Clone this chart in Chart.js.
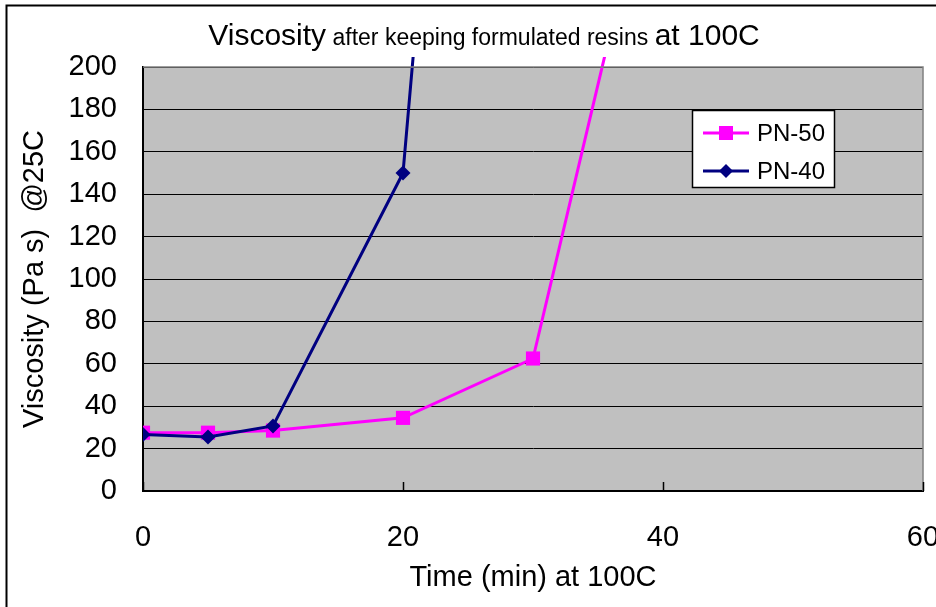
<!DOCTYPE html>
<html>
<head>
<meta charset="utf-8">
<script src="https://cdn.jsdelivr.net/npm/chart.js@4.4.0/dist/chart.umd.min.js"></script>
<style>
  html, body { margin: 0; padding: 0; background: #fff; }
  #wrap { width: 936px; height: 607px; position: relative; }
</style>
</head>
<body>
<div id="wrap"><canvas id="visc" width="936" height="607"></canvas></div>
<script>
// values
const pn50Time = [0, 5, 10, 20, 30, 40]
const pn50Visc = [27.5, 27.5, 28.5, 34.5, 62.5, 321]
const pn40Time = [0, 5, 10, 20, 30]
const pn40Visc = [26.6, 25.5, 30.7, 150, 853]
const xTicks = [0, 20, 40, 60]
const seriesNames = ['PN-50', 'PN-40']

const FONT = '"Liberation Sans", Arial, sans-serif'
const MAGENTA = '#FF00FF'
const NAVY = '#000080'

function toPoints(xs, ys) {
    let pts = []
    for (var i in xs) {
        pts.push({ x: xs[i], y: ys[i] })
    }
    return pts
}

// plot background, frame, inside tick marks
const plotDeco = {
    id: 'plotDeco',
    beforeDraw(chart) {
        const ctx = chart.ctx
        const a = chart.chartArea
        ctx.save()
        ctx.fillStyle = '#C0C0C0'
        ctx.fillRect(a.left, a.top, a.right - a.left, a.bottom - a.top)
        ctx.restore()
    },
    afterDraw(chart) {
        const ctx = chart.ctx
        const a = chart.chartArea
        ctx.save()
        // outer frame (left + top)
        ctx.strokeStyle = '#000'
        ctx.lineWidth = 2
        ctx.beginPath()
        ctx.moveTo(6.5, 607)
        ctx.lineTo(6.5, 5.5)
        ctx.lineTo(936, 5.5)
        ctx.stroke()
        // gray plot border top/right
        ctx.strokeStyle = '#808080'
        ctx.lineWidth = 1.5
        ctx.beginPath()
        ctx.moveTo(a.left, a.top)
        ctx.lineTo(a.right, a.top)
        ctx.lineTo(a.right, a.bottom)
        ctx.stroke()
        // x tick marks pointing up
        ctx.strokeStyle = '#000'
        ctx.lineWidth = 1.5
        const xs = chart.scales.x
        for (const t of xTicks) {
            const px = Math.round(xs.getPixelForValue(t)) + 0.5
            ctx.beginPath()
            ctx.moveTo(px, a.bottom)
            ctx.lineTo(px, a.bottom - 9)
            ctx.stroke()
        }
        ctx.restore()
    }
}

// title with mixed sizes
const mixedTitle = {
    id: 'mixedTitle',
    afterDraw(chart) {
        const ctx = chart.ctx
        const parts = [
            ['Viscosity', '30px ' + FONT],
            [' after keeping formulated resins ', '23px ' + FONT],
            ['at 100C', '30px ' + FONT]
        ]
        ctx.save()
        ctx.fillStyle = '#000'
        ctx.textBaseline = 'alphabetic'
        let total = 0
        for (const p of parts) {
            ctx.font = p[1]
            total += ctx.measureText(p[0]).width
        }
        let x = 484 - total / 2
        for (const p of parts) {
            ctx.font = p[1]
            ctx.fillText(p[0], x, 45)
            x += ctx.measureText(p[0]).width
        }
        ctx.restore()
    }
}

// legend box inside the plot
const boxLegend = {
    id: 'boxLegend',
    afterDraw(chart) {
        const ctx = chart.ctx
        const L = 692, T = 110, W = 142, H = 77
        ctx.save()
        ctx.fillStyle = '#fff'
        ctx.fillRect(L, T, W, H)
        ctx.strokeStyle = '#000'
        ctx.lineWidth = 1.5
        ctx.strokeRect(L + 0.5, T + 0.5, W, H)
        const rows = [
            { name: seriesNames[0], color: MAGENTA, y: 133, shape: 'square' },
            { name: seriesNames[1], color: NAVY, y: 171, shape: 'diamond' }
        ]
        for (const r of rows) {
            ctx.strokeStyle = r.color
            ctx.lineWidth = 3
            ctx.beginPath()
            ctx.moveTo(703, r.y)
            ctx.lineTo(749, r.y)
            ctx.stroke()
            ctx.fillStyle = r.color
            if (r.shape == 'square') {
                ctx.fillRect(726 - 7, r.y - 7, 14, 14)
            } else {
                ctx.beginPath()
                ctx.moveTo(726, r.y - 7)
                ctx.lineTo(733, r.y)
                ctx.lineTo(726, r.y + 7)
                ctx.lineTo(719, r.y)
                ctx.closePath()
                ctx.fill()
            }
            ctx.fillStyle = '#000'
            ctx.font = '24px ' + FONT
            ctx.textBaseline = 'middle'
            ctx.fillText(r.name, 757, r.y + 1)
        }
        ctx.restore()
    }
}

let viscContext = document.getElementById('visc')

var viscChart = new Chart(viscContext, {
    type: 'line',
    data: {
        datasets: [{
            label: seriesNames[0],
            data: toPoints(pn50Time, pn50Visc),
            borderColor: MAGENTA,
            backgroundColor: MAGENTA,
            borderWidth: 3,
            pointStyle: 'rect',
            pointRadius: 10,
            pointBorderWidth: 0,
            tension: 0,
            order: 1,
            clip: { left: 0, top: 10, right: 0, bottom: 0 }
        }, {
            label: seriesNames[1],
            data: toPoints(pn40Time, pn40Visc),
            borderColor: NAVY,
            backgroundColor: NAVY,
            borderWidth: 3,
            pointStyle: 'rectRot',
            pointRadius: 7.5,
            pointBorderWidth: 0,
            tension: 0,
            order: 0,
            clip: { left: 0, top: 10, right: 0, bottom: 0 }
        }]
    },
    options: {
        responsive: false,
        animation: false,
        events: [],
        layout: { padding: { top: 67, right: 13, left: 0, bottom: 0 } },
        plugins: {
            legend: { display: false },
            title: { display: false },
            tooltip: { enabled: false }
        },
        scales: {
            x: {
                type: 'linear',
                min: 0,
                max: 60,
                afterFit: function (scale) {
                    scale.height = 116
                    scale.paddingLeft = 0
                    scale.paddingRight = 0
                },
                afterBuildTicks: function (scale) {
                    scale.ticks = xTicks.map(v => ({ value: v }))
                },
                grid: { display: false, drawTicks: false },
                border: { display: true, color: '#000', width: 2 },
                ticks: {
                    color: '#000',
                    font: { family: FONT, size: 29 },
                    padding: 30,
                    maxRotation: 0
                },
                title: {
                    display: true,
                    text: 'Time (min) at 100C',
                    color: '#000',
                    font: { family: FONT, size: 29 },
                    padding: { top: 12, bottom: 12 }
                }
            },
            y: {
                type: 'linear',
                min: 0,
                max: 200,
                afterFit: function (scale) {
                    scale.width = 143
                    scale.paddingTop = 0
                    scale.paddingBottom = 0
                },
                ticks: {
                    stepSize: 20,
                    color: '#000',
                    font: { family: FONT, size: 29 },
                    padding: 26
                },
                grid: { color: '#000', lineWidth: 1, drawTicks: false },
                border: { display: true, color: '#000', width: 2 },
                title: {
                    display: true,
                    text: 'Viscosity (Pa s)  @25C',
                    color: '#000',
                    font: { family: FONT, size: 29 },
                    padding: { top: 18, bottom: 18 }
                }
            }
        }
    },
    plugins: [plotDeco, mixedTitle, boxLegend]
})
</script>
</body>
</html>
